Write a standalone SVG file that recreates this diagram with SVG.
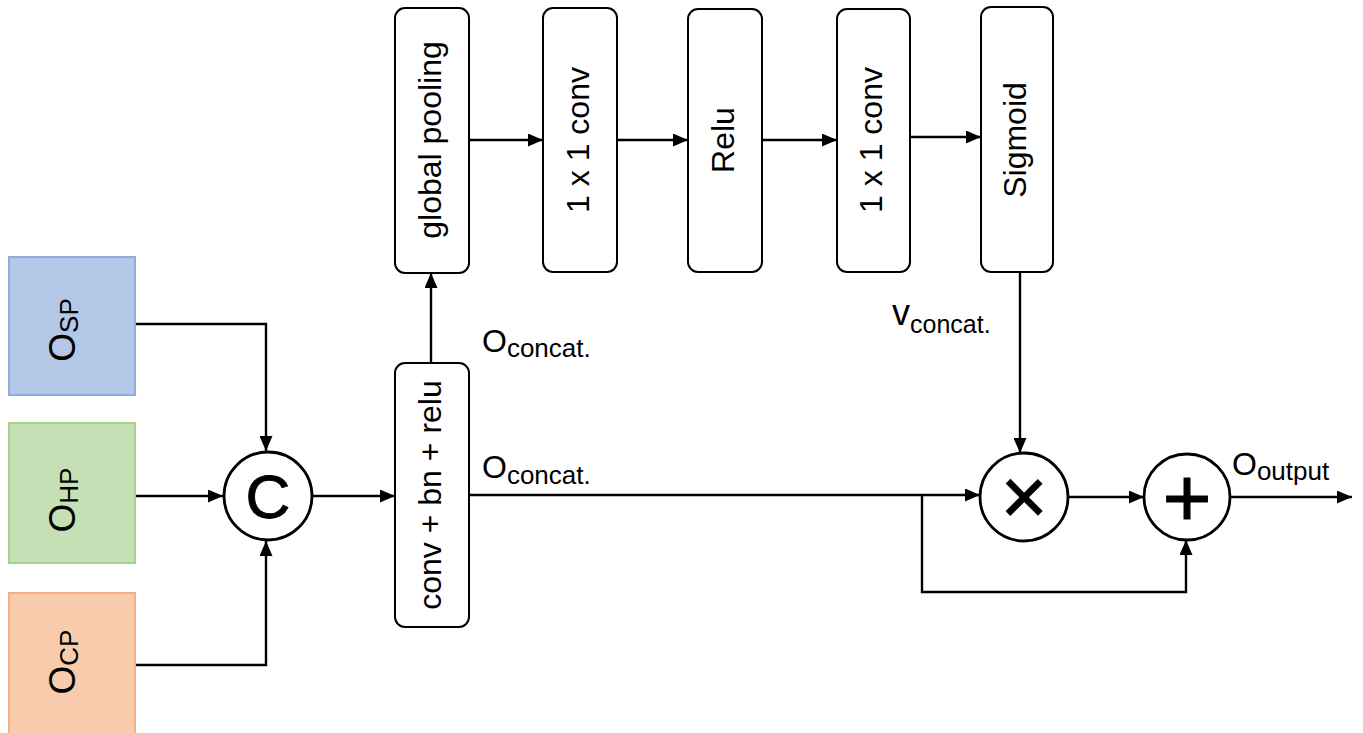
<svg xmlns="http://www.w3.org/2000/svg" width="1363" height="733" viewBox="0 0 1363 733">
<defs>
<marker id="arr" markerUnits="userSpaceOnUse" markerWidth="15" markerHeight="13" refX="15" refY="6.5" orient="auto">
<path d="M0,0 L15,6.5 L0,13 z" fill="#000"/>
</marker>
<style>
.blk{fill:#fff;stroke:#000;stroke-width:2}
.op{fill:#fff;stroke:#000;stroke-width:2.8}
.lbl{font-family:"Liberation Sans",Arial,sans-serif;font-size:32px;fill:#000}
.t{font-family:"Liberation Sans",Arial,sans-serif;fill:#000}
.edge{fill:none;stroke:#000;stroke-width:2.4;marker-end:url(#arr)}
</style>
</defs>
<rect width="1363" height="733" fill="#fff"/>

<g id="connectors">
<path class="edge" d="M135,324 H266 V451"/>
<path class="edge" d="M135,496 H223"/>
<path class="edge" d="M135,665 H266 V541"/>
<path class="edge" d="M313,496 H395"/>
<path class="edge" d="M431,363 V273"/>
<path class="edge" d="M469,140 H543"/>
<path class="edge" d="M617,140 H688"/>
<path class="edge" d="M762,140 H837"/>
<path class="edge" d="M910,137 H981"/>
<path class="edge" d="M1020,272 V453"/>
<path class="edge" d="M469,495 H980"/>
<path class="edge" d="M1068,497 H1144"/>
<path class="edge" d="M922,495 V592 H1186 V540"/>
<path class="edge" d="M1230,497 H1352"/>
</g>

<g id="osp">
<rect x="9" y="257" width="126" height="138" fill="#b4c7e7" stroke="#8faadc" stroke-width="2"/>
<text class="t" transform="translate(75,330) rotate(-90)" text-anchor="middle"><tspan font-size="37">O</tspan><tspan font-size="26" dy="3">SP</tspan></text>
</g>
<g id="ohp">
<rect x="9" y="423" width="126" height="140" fill="#c5e0b4" stroke="#a9d18e" stroke-width="2"/>
<text class="t" transform="translate(75,500) rotate(-90)" text-anchor="middle"><tspan font-size="37">O</tspan><tspan font-size="26" dy="3">HP</tspan></text>
</g>
<g id="ocp">
<rect x="9" y="593" width="126" height="145" fill="#f8cbad" stroke="#f4b183" stroke-width="2"/>
<text class="t" transform="translate(75,662) rotate(-90)" text-anchor="middle"><tspan font-size="37">O</tspan><tspan font-size="26" dy="3">CP</tspan></text>
</g>

<g id="concat">
<circle class="op" cx="268" cy="496" r="44"/>
<text class="t" x="268" y="518" font-size="62" text-anchor="middle" stroke="#000" stroke-width="1">C</text>
</g>

<g id="convbnrelu">
<rect class="blk" x="395" y="363" width="74" height="264" rx="10"/>
<text class="lbl" transform="translate(441,495) rotate(-90)" text-anchor="middle">conv + bn + relu</text>
</g>
<g id="globalpooling">
<rect class="blk" x="395" y="8" width="74" height="265" rx="10"/>
<text class="lbl" transform="translate(441,140) rotate(-90)" text-anchor="middle">global pooling</text>
</g>
<g id="conv1">
<rect class="blk" x="543" y="8" width="74" height="264" rx="10"/>
<text class="lbl" transform="translate(589,140) rotate(-90)" text-anchor="middle">1 x 1 conv</text>
</g>
<g id="relu">
<rect class="blk" x="688" y="9" width="74" height="263" rx="10"/>
<text class="lbl" transform="translate(734,140) rotate(-90)" text-anchor="middle">Relu</text>
</g>
<g id="conv2">
<rect class="blk" x="837" y="9" width="73" height="263" rx="10"/>
<text class="lbl" transform="translate(882,140) rotate(-90)" text-anchor="middle">1 x 1 conv</text>
</g>
<g id="sigmoid">
<rect class="blk" x="981" y="7" width="72" height="265" rx="10"/>
<text class="lbl" transform="translate(1026,140) rotate(-90)" text-anchor="middle">Sigmoid</text>
</g>

<g id="multiply">
<circle class="op" cx="1024" cy="497" r="44"/>
<text class="t" x="1024" y="524" font-size="80" text-anchor="middle" stroke="#000" stroke-width="1">×</text>
</g>
<g id="add">
<circle class="op" cx="1187" cy="497" r="43"/>
<text class="t" x="1187" y="526" font-size="84" text-anchor="middle" stroke="#000" stroke-width="1">+</text>
</g>

<g id="labels">
<text class="t" x="482" y="352"><tspan font-size="32">O</tspan><tspan font-size="26" dy="5">concat.</tspan></text>
<text class="t" x="482" y="478"><tspan font-size="32">O</tspan><tspan font-size="26" dy="6">concat.</tspan></text>
<text class="t" x="892" y="325"><tspan font-size="36">v</tspan><tspan font-size="25" dy="8">concat.</tspan></text>
<text class="t" x="1232" y="475"><tspan font-size="32">O</tspan><tspan font-size="26" dy="5">output</tspan></text>
</g>
</svg>
